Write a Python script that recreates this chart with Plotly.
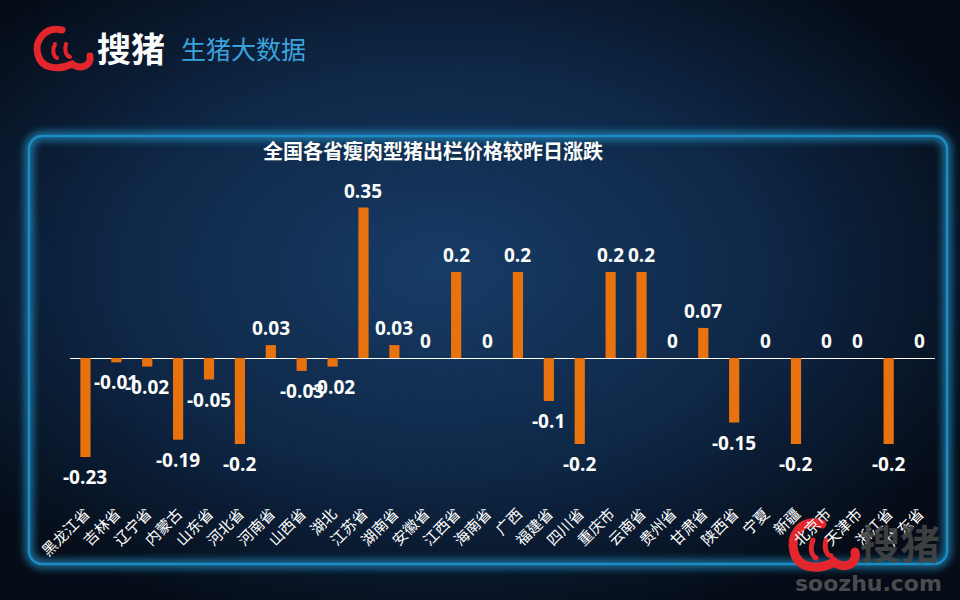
import base64

import plotly.graph_objects as go

# Data
provinces = ['黑龙江省', '吉林省', '辽宁省', '内蒙古', '山东省', '河北省', '河南省', '山西省', '湖北',
             '江苏省', '湖南省', '安徽省', '江西省', '海南省', '广西', '福建省', '四川省', '重庆市',
             '云南省', '贵州省', '甘肃省', '陕西省', '宁夏', '新疆', '北京市', '天津市', '浙江省', '广东省']
changes = [-0.23, -0.01, -0.02, -0.19, -0.05, -0.2, 0.03, -0.03, -0.02,
           0.35, 0.03, 0, 0.2, 0, 0.2, -0.1, -0.2, 0.2,
           0.2, 0, 0.07, -0.15, 0, -0.2, 0, 0, -0.2, 0]
title_text = '全国各省瘦肉型猪出栏价格较昨日涨跌'

W, H = 960, 600
ML, MR, MT, MB = 70, 25, 180, 99
PW, PH = W - ML - MR, H - MT - MB
ZERO_Y, PX_PER_UNIT = 358, 430


def px(x):
    return (x - ML) / PW


def py(y):
    return 1 - (y - MT) / PH


# background: radial gradient, glowing frame and the red logo marks
svg = f'''<svg xmlns="http://www.w3.org/2000/svg" width="{W}" height="{H}" viewBox="0 0 {W} {H}">
<defs>
 <radialGradient id="bg" cx="0.46" cy="0.45" r="0.62">
  <stop offset="0" stop-color="#173c66"/>
  <stop offset="0.55" stop-color="#0e2746"/>
  <stop offset="1" stop-color="#050c17"/>
 </radialGradient>
 <filter id="glow" x="-10%" y="-10%" width="120%" height="120%">
  <feGaussianBlur stdDeviation="4"/>
 </filter>
</defs>
<rect width="{W}" height="{H}" fill="url(#bg)"/>
<rect x="29" y="136" width="918" height="428" rx="13" fill="none" stroke="#2aa6e0" stroke-width="7" opacity="0.8" filter="url(#glow)"/>
<rect x="29" y="136" width="918" height="428" rx="13" fill="none" stroke="#1b8cc4" stroke-width="2.5"/>
<g fill="none" stroke="#e3262b" stroke-linecap="round">
 <path d="M62 30 C44 26 34 42 38 55 C42 70 60 70 72 64 C80 70 92 66 90 56" stroke-width="7"/>
 <path d="M55 44 C52 50 53 56 57 58" stroke-width="4"/>
 <path d="M66 44 C64 50 66 56 70 57" stroke-width="4"/>
</g>
<g fill="none" stroke="#e3262b" stroke-linecap="round">
 <path d="M822 524 C800 518 790 536 794 552 C799 570 820 570 834 562 C844 570 858 564 855 552" stroke-width="9"/>
 <path d="M813 540 C810 548 811 555 816 558" stroke-width="5"/>
 <path d="M826 540 C824 548 826 555 831 556" stroke-width="5"/>
</g>
</svg>'''
bg_src = 'data:image/svg+xml;base64,' + base64.b64encode(svg.encode('utf-8')).decode('ascii')

fig = go.Figure()

fig.add_trace(go.Bar(
    x=provinces,
    y=changes,
    width=0.33,
    marker=dict(color='#e8730e', line=dict(width=0)),
    hoverinfo='x+y',
))

# value labels: above positive (and zero) bars, below negative ones
value_labels = [
    dict(x=p, y=v, xref='x', yref='y', text=f'<b>{v:g}</b>', showarrow=False,
         yanchor='middle', yshift=-20 if v < 0 else 17,
         font=dict(family='Open Sans, sans-serif', size=19, color='white', weight='bold'))
    for p, v in zip(provinces, changes)
]

logo_texts = [
    dict(text='<b>搜猪</b>', x=px(95), y=py(48), xref='paper', yref='paper', xanchor='left', yanchor='middle',
         showarrow=False, font=dict(family='Noto Sans CJK SC', size=34, color='white')),
    dict(text='生猪大数据', x=px(179), y=py(48), xref='paper', yref='paper', xanchor='left', yanchor='middle',
         showarrow=False, font=dict(family='Noto Sans CJK SC', size=25, color='#3ba3dc')),
    dict(text='<b>搜猪</b>', x=px(858), y=py(542), xref='paper', yref='paper', xanchor='left', yanchor='middle',
         showarrow=False, font=dict(family='Noto Sans CJK SC', size=40, color='rgba(70,70,70,0.9)')),
    dict(text='<b>soozhu.com</b>', x=px(868), y=py(583), xref='paper', yref='paper', xanchor='center',
         yanchor='middle', showarrow=False, font=dict(family='DejaVu Sans', size=22, color='rgba(85,85,85,0.9)')),
]

fig.update_layout(
    width=W, height=H,
    margin=dict(l=ML, r=MR, t=MT, b=MB),
    paper_bgcolor='#0b1a2e',
    plot_bgcolor='rgba(0,0,0,0)',
    showlegend=False,
    bargap=0.67,
    title=dict(text=f'<b>{title_text}</b>', x=433 / W, y=1 - 152 / H, xanchor='center', yanchor='middle',
               font=dict(family='Noto Sans CJK SC', size=20, color='white')),
    xaxis=dict(
        showgrid=False, zeroline=False, showline=False, ticks='',
        tickangle=-45, automargin=False,
        tickfont=dict(family='Noto Sans CJK SC', size=15, color='white'),
        range=[-0.5, len(provinces) - 0.5],
    ),
    yaxis=dict(
        range=[-(H - MB - ZERO_Y) / PX_PER_UNIT, (ZERO_Y - MT) / PX_PER_UNIT],
        showgrid=False, showticklabels=False, ticks='', showline=False,
        zeroline=True, zerolinecolor='white', zerolinewidth=1,
    ),
    images=[dict(
        source=bg_src, xref='paper', yref='paper',
        x=px(0), y=py(0), sizex=W / PW, sizey=H / PH,
        xanchor='left', yanchor='top', sizing='stretch', layer='below',
    )],
    annotations=value_labels + logo_texts,
)

# the page's default 8px body margin would shift the whole figure
fig.write_html('out.html', config={'displayModeBar': False},
               post_script="document.body.style.margin='0';")
